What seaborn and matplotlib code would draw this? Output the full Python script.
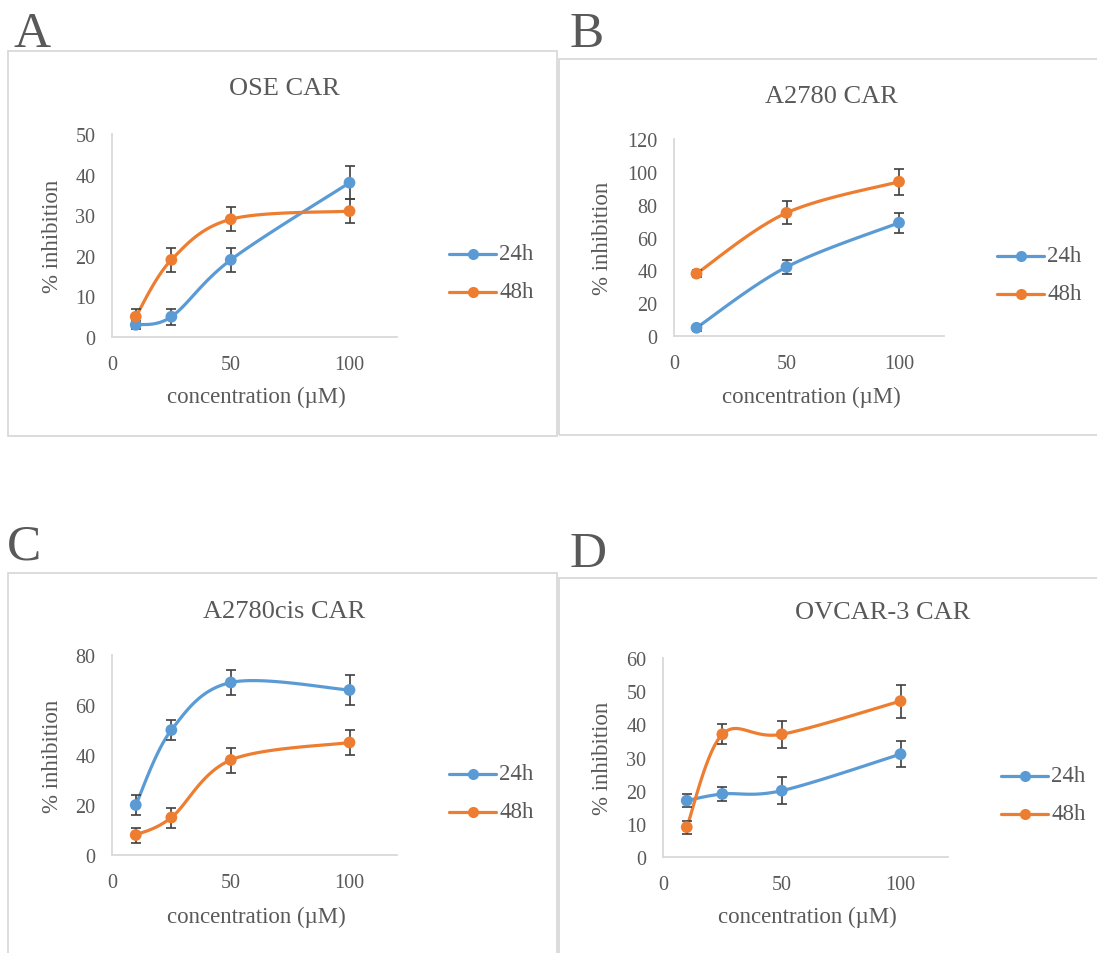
import numpy as np
import matplotlib
matplotlib.use("Agg")
import matplotlib.pyplot as plt
import seaborn as sns
import pandas as pd
from matplotlib.patches import Rectangle
from matplotlib.lines import Line2D

sns.set_style("white")
plt.rcParams['font.family'] = ['Liberation Serif', 'DejaVu Serif']

# ---------------- data ----------------
titles = ["OSE CAR", "A2780 CAR", "A2780cis CAR", "OVCAR-3 CAR"]
letters = ["A", "B", "C", "D"]
series_names = ["24h", "48h"]

conc_A = [10, 25, 50, 100]
a_24 = [3, 5, 19, 38]
a_24_err = [1, 2, 3, 4]
a_48 = [5, 19, 29, 31]
a_48_err = [2, 3, 3, 3]

conc_B = [10, 50, 100]
b_24 = [5, 42, 69]
b_24_err = [2, 4, 6]
b_48 = [38, 75, 94]
b_48_err = [2, 7, 8]

conc_C = [10, 25, 50, 100]
c_24 = [20, 50, 69, 66]
c_24_err = [4, 4, 5, 6]
c_48 = [8, 15, 38, 45]
c_48_err = [3, 4, 5, 5]

conc_D = [10, 25, 50, 100]
d_24 = [17, 19, 20, 31]
d_24_err = [2, 2, 4, 4]
d_48 = [9, 37, 37, 47]
d_48_err = [2, 3, 4, 5]

y_max = [50, 120, 80, 60]
y_step = [10, 20, 20, 10]
x_ticks = [0, 50, 100]

panels = [
    (conc_A, a_24, a_24_err, a_48, a_48_err),
    (conc_B, b_24, b_24_err, b_48, b_48_err),
    (conc_C, c_24, c_24_err, c_48, c_48_err),
    (conc_D, d_24, d_24_err, d_48, d_48_err),
]

colors = ["#5B9BD5", "#ED7D31"]
text_col = "#595959"
grid_col = "#D9D9D9"

W, H = 1097, 954
fig = plt.figure(figsize=(W / 100, H / 100), dpi=100)
fig.patch.set_facecolor("white")

def fx(px):
    return px / W

def fy(py):
    return 1 - py / H

# layout in pixels
axes_px = [(112, 135, 397, 338), (674, 140, 944, 337), (112, 656, 397, 856), (663, 659, 948, 858)]
box_px = [(8, 52, 557, 437), (559, 60, 1100, 436), (8, 574, 557, 960), (559, 579, 1100, 960)]
letter_px = [(14, 47), (570, 47), (7, 560), (570, 567)]
title_px = [(284, 89), (831, 97), (284, 612), (883, 613)]
legend_px = [(449, 255, 293), (997, 257, 295), (449, 775, 813), (1001, 777, 815)]
xlabel_px = [(256, 397), (811, 397), (256, 917), (807, 917)]
ylabel_x = [52, 603, 52, 603]


def excel_smooth(x, y, n=40):
    x = np.asarray(x, float)
    y = np.asarray(y, float)
    P = np.column_stack([x, y])
    Pext = np.vstack([P[0], P, P[-1]])
    out = []
    t = np.linspace(0, 1, n)
    for i in range(len(P) - 1):
        p0, p3 = P[i], P[i + 1]
        p1 = p0 + (Pext[i + 2] - Pext[i]) / 6.0
        p2 = p3 - (Pext[i + 3] - Pext[i + 1]) / 6.0
        seg = ((1 - t)[:, None] ** 3 * p0 + 3 * ((1 - t) ** 2 * t)[:, None] * p1
               + 3 * ((1 - t) * t ** 2)[:, None] * p2 + (t ** 3)[:, None] * p3)
        out.append(seg if i == 0 else seg[1:])
    out = np.vstack(out)
    return out[:, 0], out[:, 1]


for k, (conc, s24, e24, s48, e48) in enumerate(panels):
    # box
    bx0, by0, bx1, by1 = box_px[k]
    fig.patches.append(Rectangle((fx(bx0), fy(by1)), fx(bx1 - bx0), (by1 - by0) / H,
                                 transform=fig.transFigure, fill=False,
                                 edgecolor=grid_col, linewidth=1.3, zorder=0))
    # letter
    lx, ly = letter_px[k]
    fig.text(fx(lx), fy(ly), letters[k], fontsize=37, color=text_col,
             ha="left", va="baseline")
    # title
    tx, ty = title_px[k]
    fig.text(fx(tx), fy(ty), titles[k], fontsize=19, color=text_col,
             ha="center", va="center")

    l, t, r, b = axes_px[k]
    ax = fig.add_axes([fx(l), fy(b), fx(r - l), (b - t) / H])
    ax.set_facecolor("none")

    for s, (vals, errs) in enumerate([(s24, e24), (s48, e48)]):
        sx, sy = excel_smooth(conc, vals)
        df_line = pd.DataFrame({"x": sx, "y": sy})
        sns.lineplot(data=df_line, x="x", y="y", ax=ax, color=colors[s],
                     linewidth=2.3, sort=False, estimator=None, zorder=3)
        ax.errorbar(conc, vals, yerr=errs, fmt="none", ecolor="#404040",
                    elinewidth=1.2, capsize=3.5, capthick=1.2, zorder=4)
        df_pts = pd.DataFrame({"x": conc, "y": vals})
        sns.scatterplot(data=df_pts, x="x", y="y", ax=ax, color=colors[s],
                        s=72, edgecolor="none", zorder=5)

    ax.set_xlim(0, 120)
    ax.set_ylim(0, y_max[k])
    ax.set_xticks(x_ticks)
    ax.set_yticks(np.arange(0, y_max[k] + 1, y_step[k]))
    ax.tick_params(axis="both", length=0, labelsize=14.5, labelcolor=text_col)
    ax.tick_params(axis="y", pad=12)
    ax.tick_params(axis="x", pad=13)
    for sp in ["top", "right"]:
        ax.spines[sp].set_visible(False)
    for sp in ["left", "bottom"]:
        ax.spines[sp].set_color(grid_col)
        ax.spines[sp].set_linewidth(1.3)
    ax.set_xlabel("concentration (µM)", fontsize=16.5, color=text_col)
    ax.set_ylabel("% inhibition", fontsize=16.5, color=text_col)
    xlx, xly = xlabel_px[k]
    ax.xaxis.set_label_coords(fx(xlx), fy(xly), transform=fig.transFigure)
    ax.xaxis.label.set_va("center")
    ax.yaxis.set_label_coords(fx(ylabel_x[k]), fy((t + b) / 2), transform=fig.transFigure)
    ax.yaxis.label.set_va("center")
    ax.grid(False)

    # legend
    lgx, ly1, ly2 = legend_px[k]
    for s, yy in enumerate([ly1, ly2]):
        fig.lines.append(Line2D([fx(lgx), fx(lgx + 47)], [fy(yy), fy(yy)],
                                transform=fig.transFigure, color=colors[s],
                                linewidth=2.3))
        fig.lines.append(Line2D([fx(lgx + 23.5)], [fy(yy)], transform=fig.transFigure,
                                color=colors[s], marker="o", markersize=8,
                                markeredgewidth=0))
        fig.text(fx(lgx + 50), fy(yy), series_names[s], fontsize=16.5,
                 color=text_col, ha="left", va="center")

fig.savefig("out.png", dpi=100, facecolor="white")
